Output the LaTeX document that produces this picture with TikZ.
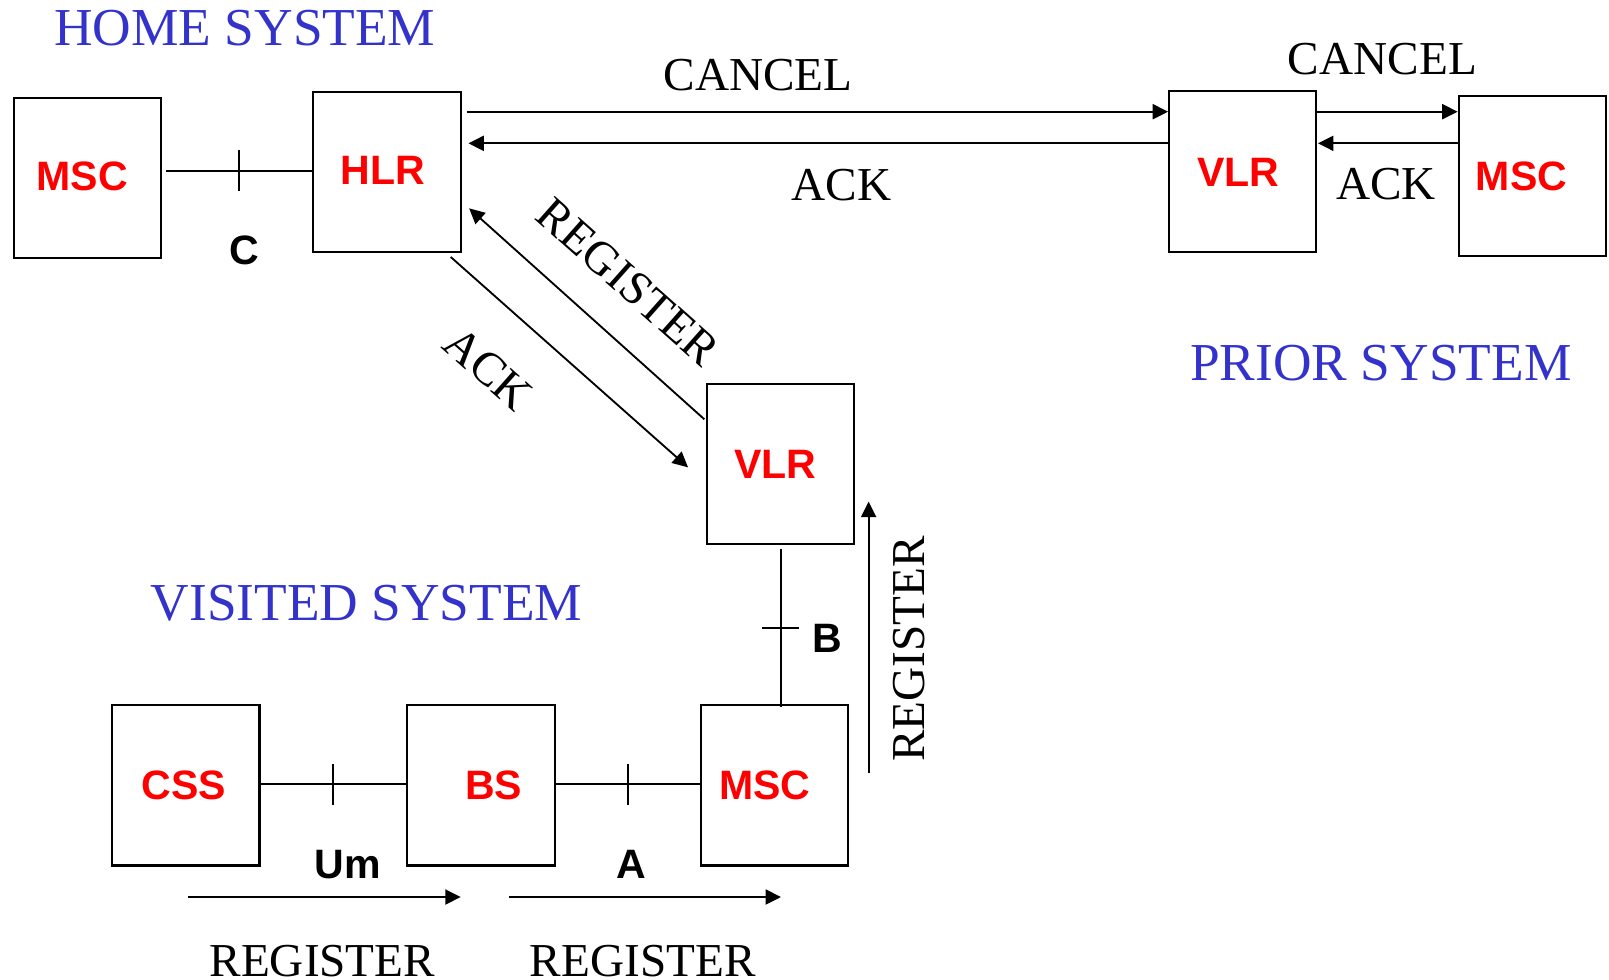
\documentclass[tikz,border=0pt]{standalone}
\usepackage{fontspec}
\setmainfont{Liberation Serif}
\setsansfont{Liberation Sans}
\usetikzlibrary{arrows.meta}
\definecolor{sysblue}{RGB}{51,51,204}
\definecolor{boxred}{RGB}{255,0,0}
\tikzset{
  box/.style={draw=black, line width=1pt, inner sep=0pt, minimum width=71.75pt, minimum height=78pt},
  boxlabel/.style={text=boxred, inner sep=0pt, font=\sffamily\bfseries\fontsize{20}{24}\selectfont},
  iflabel/.style={text=black, inner sep=0pt, font=\sffamily\bfseries\fontsize{20}{24}\selectfont},
  msg/.style={text=black, inner sep=0pt, font=\fontsize{23}{27}\selectfont},
  sys/.style={text=sysblue, inner sep=0pt, font=\fontsize{26}{30}\selectfont},
  link/.style={draw=black, line width=1pt},
  arr/.style={draw=black, line width=1pt, -{Triangle[length=7.5pt,width=7.3pt]}},
}
\begin{document}
\begin{tikzpicture}[x=0.5pt, y=-0.5pt]
\useasboundingbox (0,0) rectangle (1567.2,954.5);

% boxes
\node[box] (MSCh) at (85,173) {};
\node[box] (HLR)  at (377,167.5) {};
\node[box] (VLRp) at (1210.5,167) {};
\node[box] (MSCp) at (1492.5,171.5) {};
\node[box] (VLRv) at (760.5,452) {};
\node[box] (CSS)  at (181,765) {};
\node[box] (BS)   at (468.5,765) {};
\node[box] (MSCv) at (754.5,765) {};

% box labels
\node[boxlabel] (lMSCh) at (80,172) {MSC};
\node[boxlabel] (lHLR)  at (373,166) {HLR};
\node[boxlabel] (lVLRp) at (1206,168) {VLR};
\node[boxlabel] (lMSCp) at (1482,172) {MSC};
\node[boxlabel] (lVLRv) at (755,452) {VLR};
\node[boxlabel] (lCSS)  at (179,765) {CSS};
\node[boxlabel] (lBS)   at (481,765) {BS};
\node[boxlabel] (lMSCv) at (745,765) {MSC};

% interface labels
\node[iflabel] (lC)  at (238,244) {C};
\node[iflabel] (lB)  at (806,622) {B};
\node[iflabel] (lUm) at (339,842) {Um};
\node[iflabel] (lA)  at (615,842) {A};

% system titles
\node[sys] (tHome)    at (238.5,27) {HOME SYSTEM};
\node[sys] (tPrior)   at (1345,354) {PRIOR SYSTEM};
\node[sys] (tVisited) at (357,588) {VISITED SYSTEM};

% message labels
\node[msg] (mCancel1) at (738.5,73) {CANCEL};
\node[msg] (mAck1)    at (819.5,180) {ACK};
\node[msg] (mCancel2) at (1346.5,58) {CANCEL};
\node[msg] (mAck2)    at (1350,179) {ACK};
\node[msg, rotate=-41.6] (mRegD) at (612,274.5) {REGISTER};
\node[msg, rotate=-41.6] (mAckD) at (475.5,359) {ACK};
\node[msg, rotate=90] (mRegV) at (885,632) {REGISTER};
\node[msg] (mReg1) at (314,936) {REGISTER};
\node[msg] (mReg2) at (626,936) {REGISTER};

% interface lines with ticks
\draw[link] ([shift={(4,-6.7)}]MSCh.east) -- coordinate[pos=.5] (tC) ([shift={(0,-1.2)}]HLR.west);
\draw[link] ([shift={(0,-20)}]tC) -- ([shift={(0,20)}]tC);

\draw[link] ([shift={(0,4)}]VLRv.south) -- coordinate[pos=.5] (tB) ([shift={(6,3)}]MSCv.north);
\draw[link] ([shift={(-18,0)}]tB) -- ([shift={(18,0)}]tB);

\draw[link] ([shift={(0,-1)}]CSS.east) -- coordinate[pos=.5] (tUm) ([shift={(0,-1)}]BS.west);
\draw[link] ([shift={(0,-20)}]tUm) -- ([shift={(0,20)}]tUm);

\draw[link] ([shift={(0,-1)}]BS.east) -- coordinate[pos=.5] (tA) ([shift={(0,-1)}]MSCv.west);
\draw[link] ([shift={(0,-20)}]tA) -- ([shift={(0,20)}]tA);

% home <-> prior
\draw[arr] ([shift={(5,-58.7)}]HLR.east) -- ([shift={(0,-58.2)}]VLRp.west);
\draw[arr] ([shift={(0,-27.4)}]VLRp.west) -- ([shift={(6.5,-27.9)}]HLR.east);
\draw[arr] ([shift={(0,-58.2)}]VLRp.east) -- ([shift={(0,-62.7)}]MSCp.west);
\draw[arr] ([shift={(0,-31.9)}]MSCp.west) -- ([shift={(0.5,-27.4)}]VLRp.east);

% home <-> visited
\draw[arr, line width=0.9pt] ([shift={(-1.7,-43.6)}]VLRv.west) -- ([shift={(7.2,35.4)}]HLR.east);
\draw[arr, line width=0.9pt] ([shift={(62,3.8)}]HLR.south) -- ([shift={(-17.6,3.2)}]VLRv.west);

% visited register flow
\draw[arr] ([shift={(18.8,-12)}]MSCv.east) -- ([shift={(12.8,36.6)}]VLRv.east);
\draw[arr] ([shift={(2.4,29.7)}]CSS.south) -- ([shift={(-19.8,29.7)}]BS.south);
\draw[arr] ([shift={(27.5,29.7)}]BS.south) -- ([shift={(6.2,29.7)}]MSCv.south);
\end{tikzpicture}
\end{document}
